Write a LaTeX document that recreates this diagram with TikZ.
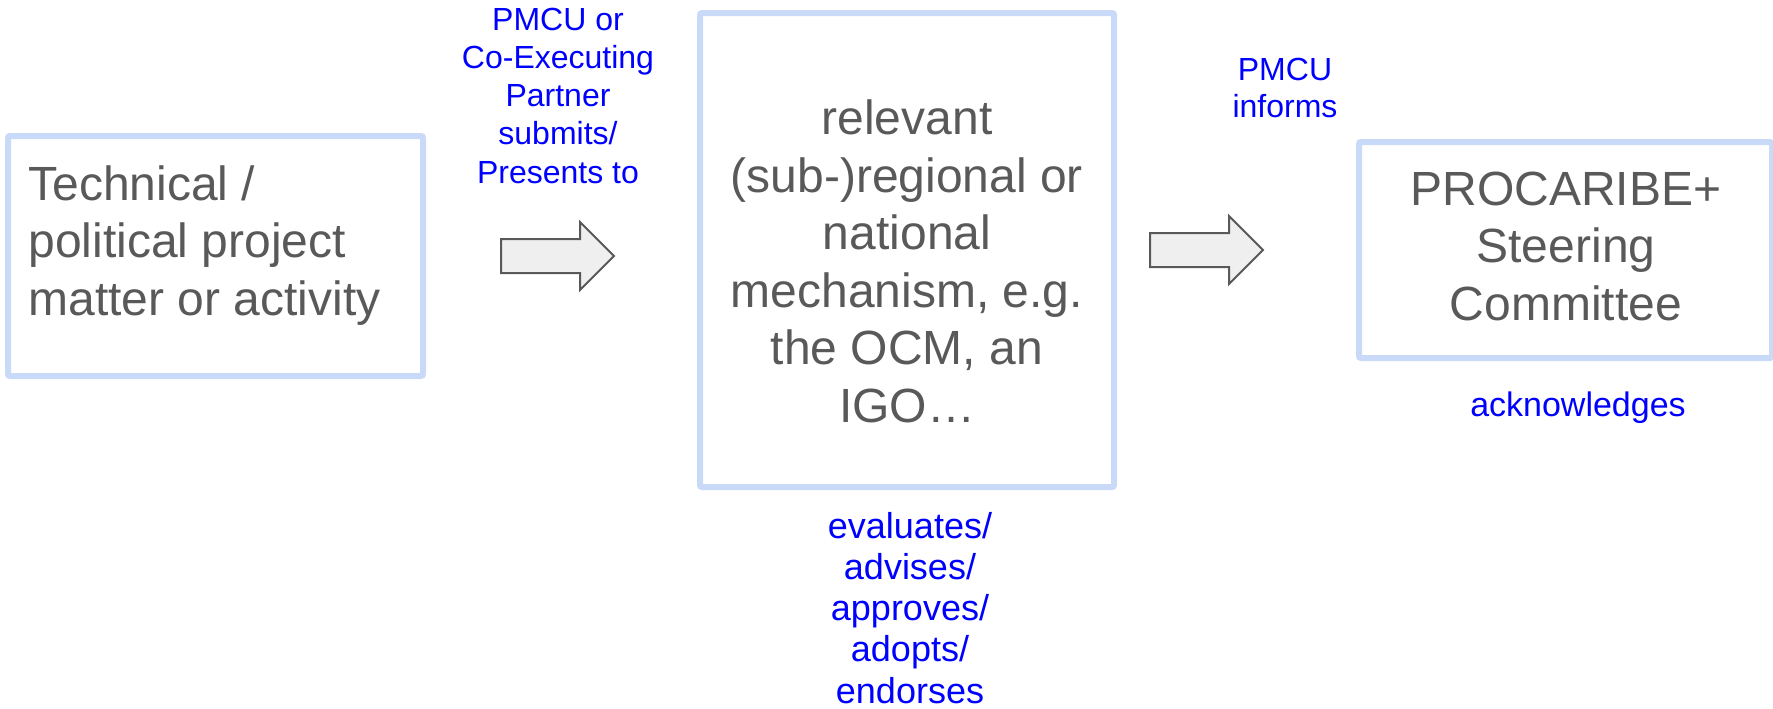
\documentclass[tikz,border=0pt]{standalone}
\usepackage{fontspec}
\setmainfont{Liberation Sans}
\usetikzlibrary{shapes.arrows}
\definecolor{boxblue}{HTML}{C9DAF8}
\definecolor{textgray}{HTML}{595959}
\definecolor{arrowgray}{HTML}{595959}
\definecolor{arrowfill}{HTML}{EFEFEF}
\definecolor{labelblue}{HTML}{0000FF}
\tikzset{
  stagebox/.style={rectangle, draw=boxblue, line width=3pt, inner sep=0pt, rounded corners=1pt},
  bigtext/.style={text=textgray, inner sep=0pt, font=\fontsize{24pt}{28.75pt}\selectfont},
  bluetext/.style={text=labelblue, inner sep=0pt, align=center},
  blockarrow/.style={single arrow, draw=arrowgray, fill=arrowfill, line width=1pt,
    inner xsep=0pt, inner ysep=8pt, minimum height=56.5pt,
    single arrow head extend=8.5pt, single arrow tip angle=90, anchor=tail},
}
\begin{document}
\begin{tikzpicture}[x=0.5pt,y=-0.5pt]
\useasboundingbox (0,0) rectangle (1773,708);
% boxes
\node[stagebox, minimum width=207.5pt, minimum height=120pt] (src) at (215.5,256) {};
\node[stagebox, minimum width=207pt, minimum height=237pt] (mech) at (907,250) {};
\node[stagebox, minimum width=206.5pt, minimum height=108pt] (sc) at (1565.5,250) {};
% box texts
\node[bigtext, align=left, anchor=base west] (srctext) at (28,315) {Technical /\\political project\\matter or activity};
\node[bigtext, align=center, anchor=base] (mechtext) at (907,422) {relevant\\(sub-)regional or\\national\\mechanism, e.g.\\the OCM, an\\IGO…};
\node[bigtext, align=center, anchor=base] (sctext) at (1566,320) {PROCARIBE+\\Steering\\Committee};
% block arrows
\node[blockarrow] (arr1) at (500,256) {};
\node[blockarrow] (arr2) at (1149,250) {};
% blue labels
\node[bluetext, anchor=base, font=\fontsize{16pt}{19.1pt}\selectfont] (submits) at (558,183) {PMCU or\\Co-Executing\\Partner\\submits/\\Presents to};
\node[bluetext, anchor=base, font=\fontsize{16pt}{18.5pt}\selectfont] (informs) at (1285,117) {PMCU\\informs};
\node[bluetext, anchor=base, font=\fontsize{18pt}{20.6pt}\selectfont] (evaluates) at (910,703) {evaluates/\\advises/\\approves/\\adopts/\\endorses};
\node[bluetext, anchor=base, font=\fontsize{17pt}{19pt}\selectfont] (ack) at (1578,416) {acknowledges};
\end{tikzpicture}
\end{document}
